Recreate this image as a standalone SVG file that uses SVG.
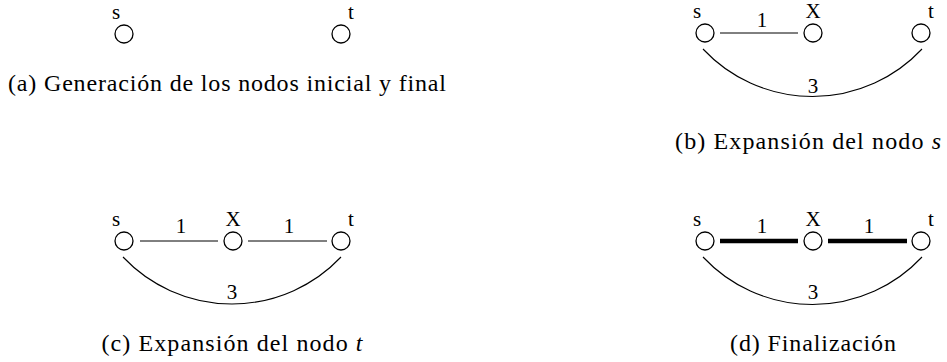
<svg xmlns="http://www.w3.org/2000/svg" width="947" height="362" viewBox="0 0 947 362">
<style>
.bg{fill:#fff}
.node{fill:#fff;stroke:#000;stroke-width:1.3}
.lbl{font-family:"Liberation Serif","Times New Roman",Times,"DejaVu Serif",serif;font-size:21px;fill:#000;text-anchor:middle}
.cap{font-family:"Liberation Serif","Times New Roman",Times,"DejaVu Serif",serif;font-size:24px;fill:#000}
.edge{stroke:#000;stroke-width:1;fill:none}
.bold{stroke:#000;stroke-width:4.5;fill:none}
.arc{stroke:#000;stroke-width:1.1;fill:none}
</style>
<rect class="bg" x="0" y="0" width="947" height="362"/>

<!-- Panel (a) -->
<g id="a_s"><circle class="node" cx="124" cy="34" r="9"/><text class="lbl" x="116" y="19">s</text></g>
<g id="a_t"><circle class="node" cx="341" cy="34" r="9"/><text class="lbl" x="351" y="19">t</text></g>
<text class="cap" x="8" y="91" textLength="438" lengthAdjust="spacing">(a) Generación de los nodos inicial y final</text>

<!-- Panel (b) -->
<g id="connectors_b">
<line class="edge" x1="720" y1="33" x2="798" y2="33"/>
<path class="arc" d="M 703 49 A 150 150 0 0 0 922 49"/>
<text class="lbl" x="762" y="27">1</text>
<text class="lbl" x="813" y="93">3</text>
</g>
<g id="b_s"><circle class="node" cx="705" cy="33" r="9"/><text class="lbl" x="697" y="18">s</text></g>
<g id="b_x"><circle class="node" cx="813" cy="33" r="9"/><text class="lbl" x="813" y="18">X</text></g>
<g id="b_t"><circle class="node" cx="921" cy="33" r="9"/><text class="lbl" x="931" y="18">t</text></g>
<text class="cap" x="941" y="149" text-anchor="end" textLength="266" lengthAdjust="spacing">(b) Expansión del nodo <tspan font-style="italic">s</tspan></text>

<!-- Panel (c) -->
<g id="connectors_c">
<line class="edge" x1="140" y1="241" x2="218" y2="241"/>
<line class="edge" x1="248" y1="241" x2="327" y2="241"/>
<path class="arc" d="M 123 257 A 150 150 0 0 0 341 257"/>
<text class="lbl" x="181" y="233">1</text>
<text class="lbl" x="289" y="233">1</text>
<text class="lbl" x="232" y="299">3</text>
</g>
<g id="c_s"><circle class="node" cx="124" cy="241" r="9"/><text class="lbl" x="116" y="226">s</text></g>
<g id="c_x"><circle class="node" cx="233" cy="241" r="9"/><text class="lbl" x="233" y="226">X</text></g>
<g id="c_t"><circle class="node" cx="341" cy="241" r="9"/><text class="lbl" x="351" y="226">t</text></g>
<text class="cap" x="232" y="351" text-anchor="middle" textLength="261" lengthAdjust="spacing">(c) Expansión del nodo <tspan font-style="italic">t</tspan></text>

<!-- Panel (d) -->
<g id="connectors_d">
<line class="bold" x1="720" y1="241" x2="798" y2="241"/>
<line class="bold" x1="828" y1="241" x2="907" y2="241"/>
<path class="arc" d="M 703 257 A 150 150 0 0 0 922 257"/>
<text class="lbl" x="762" y="233">1</text>
<text class="lbl" x="869" y="233">1</text>
<text class="lbl" x="813" y="299">3</text>
</g>
<g id="d_s"><circle class="node" cx="705" cy="241" r="9"/><text class="lbl" x="697" y="226">s</text></g>
<g id="d_x"><circle class="node" cx="813" cy="241" r="9"/><text class="lbl" x="813" y="226">X</text></g>
<g id="d_t"><circle class="node" cx="921" cy="241" r="9"/><text class="lbl" x="931" y="226">t</text></g>
<text class="cap" x="813" y="351" text-anchor="middle" textLength="166" lengthAdjust="spacing">(d) Finalización</text>
</svg>
